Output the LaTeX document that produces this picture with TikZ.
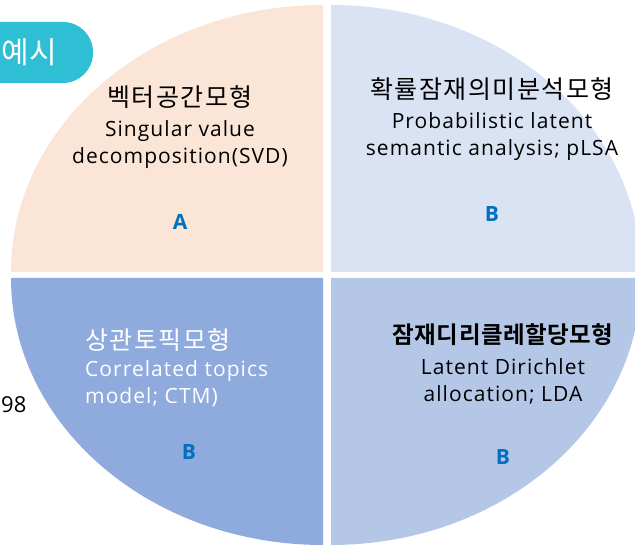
\documentclass[tikz,border=0pt]{standalone}
\usepackage{fontspec}
\setmainfont{Open Sans}
\newfontfamily\kr{Noto Sans CJK KR}
\newfontfamily\krwide[LetterSpace=6]{Noto Sans CJK KR}
\newfontfamily\krbold[LetterSpace=2]{Noto Sans CJK KR Bold}
\newfontfamily\enwide[LetterSpace=5]{Open Sans}
\definecolor{peach}{HTML}{FBE5D6}
\definecolor{paleblue}{HTML}{DAE3F3}
\definecolor{midblue}{HTML}{8FAADC}
\definecolor{softblue}{HTML}{B4C7E7}
\definecolor{tabteal}{HTML}{2EBFD4}
\definecolor{letterblue}{HTML}{0070C0}
\tikzset{
  krtitle/.style={font=\krwide\fontsize{25}{28}\selectfont, inner sep=0pt},
  entext/.style={font=\enwide\fontsize{21}{27}\selectfont, inner sep=0pt, align=center},
  grade/.style={font=\fontsize{21}{24}\selectfont\bfseries, text=letterblue, inner sep=0pt},
}
\begin{document}
\begin{tikzpicture}[x=1pt,y=1pt]
\useasboundingbox (0,0) rectangle (635,548);
\clip (0,0) rectangle (635,548);

% four quarters of the split ellipse
\fill[peach] (323,276) -- (11,276) arc[start angle=180, end angle=90, x radius=312, y radius=267] -- cycle;
\fill[paleblue] (331,276) -- (331,543) arc[start angle=90, end angle=0, x radius=310, y radius=267] -- cycle;
\fill[midblue] (323,270) -- (11,270) arc[start angle=180, end angle=270, x radius=312, y radius=267] -- cycle;
\fill[softblue] (331,270) -- (331,3) arc[start angle=270, end angle=360, x radius=310, y radius=267] -- cycle;

% heading tab
\fill[tabteal, rounded corners=30] (-40,465) rectangle (93,526);
\node[font=\kr\fontsize{30}{32}\selectfont, text=white, inner sep=0pt, anchor=east] (tab) at (57,496) {예시};

\node[font=\fontsize{22}{24}\selectfont, inner sep=0pt, anchor=west] (yr) at (1,143) {98};

% upper left
\node[krtitle] (tlt) at (180,451) {벡터공간모형};
\node[entext] (tle) at (180,403) {Singular value\\decomposition(SVD)};
\node[grade] (tlg) at (180,326) {A};

% upper right
\node[krtitle] (trt) at (492,459) {확률잠재의미분석모형};
\node[entext] (tre) at (492,411) {Probabilistic latent\\semantic analysis; pLSA};
\node[grade] (trg) at (492,334) {B};

% lower left
\node[krtitle, text=white, anchor=west] (blt) at (85,208) {상관토픽모형};
\node[entext, align=left, anchor=west, text=white] (ble) at (85,164) {Correlated topics\\model; CTM)};
\node[grade] (blg) at (189,96) {B};

% lower right
\node[krtitle, font=\krbold\fontsize{23.5}{26}\selectfont] (brt) at (503,213) {잠재디리클레할당모형};
\node[entext] (bre) at (503,167) {Latent Dirichlet\\allocation; LDA};
\node[grade] (brg) at (503,91) {B};
\end{tikzpicture}
\end{document}
